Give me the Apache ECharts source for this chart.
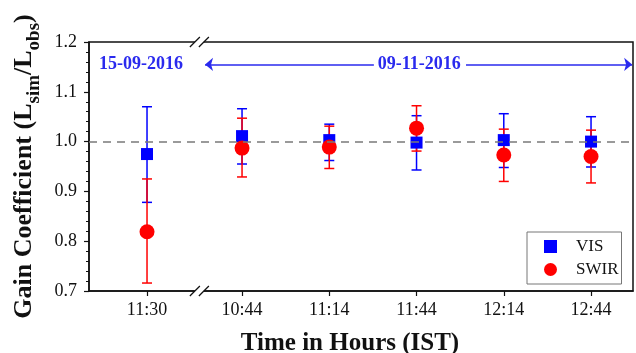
<!DOCTYPE html>
<html><head><meta charset="utf-8">
<script src="https://cdn.jsdelivr.net/npm/echarts@6/dist/echarts.min.js"></script>
<style>html,body{margin:0;padding:0;background:#fff}#c{width:636px;height:353px}</style>
</head><body><div id="c"></div>
<script>
const times=['11:30','10:44','11:14','11:44','12:14','12:44'];
const visVal =[0.975,1.011,1.003,0.998,1.003,1.000];
const visLow =[0.878,0.955,0.962,0.943,0.948,0.949];
const visHigh=[1.070,1.066,1.035,1.052,1.056,1.050];
const swirVal =[0.819,0.987,0.989,1.027,0.973,0.970];
const swirLow =[0.716,0.929,0.946,0.981,0.920,0.917];
const swirHigh=[0.925,1.047,1.031,1.072,1.025,1.023];
const yTicks=[0.7,0.8,0.9,1.0,1.1,1.2];
const dateLabels=['15-09-2016','09-11-2016'];

const SERIF="'Liberation Serif','Times New Roman',serif";
const BLUE='#0000FF',RED='#FF0000',ABLUE='#2a2aee',AX='#111';
// the first date sits a little further away (axis break after it)
const GAP=0.089, BREAK_AT=0.6, ANN_Y=1.155;
const xPos=times.map((t,i)=>i===0?0:i+GAP);

function errBar(name,low,high,color){
  return {type:'custom',name:name,silent:true,z:2,
    data:times.map((t,i)=>[xPos[i],low[i],high[i]]),
    encode:{x:0,y:[1,2]},
    renderItem:(p,api)=>{
      const x=api.value(0),lo=api.coord([x,api.value(1)]),hi=api.coord([x,api.value(2)]),w=5;
      const st={stroke:color,lineWidth:1.5};
      return {type:'group',children:[
        {type:'line',shape:{x1:lo[0],y1:lo[1],x2:hi[0],y2:hi[1]},style:st},
        {type:'line',shape:{x1:lo[0]-w,y1:lo[1],x2:lo[0]+w,y2:lo[1]},style:st},
        {type:'line',shape:{x1:hi[0]-w,y1:hi[1],x2:hi[0]+w,y2:hi[1]},style:st},
      ]};
    }};
}

const chart=echarts.init(document.getElementById('c'));
chart.setOption({
  animation:false,
  grid:{left:89,right:3,top:42,bottom:62,outerBoundsMode:'none',containLabel:false,show:true,borderColor:AX,borderWidth:1.5},
  legend:{orient:'vertical',left:527,top:232,padding:[6,3,6,17],itemGap:6,itemWidth:13,itemHeight:13,
    borderColor:'#777',borderWidth:1,data:['VIS','SWIR'],
    textStyle:{fontFamily:SERIF,fontSize:17,color:AX,padding:[0,0,0,14]}},
  xAxis:{type:'value',min:-0.665,max:5.57,
    name:'Time in Hours (IST)',nameLocation:'middle',nameGap:40,
    nameTextStyle:{fontFamily:SERIF,fontSize:25,fontWeight:'bold',color:AX,padding:[0,22,0,0]},
    axisLine:{onZero:false,lineStyle:{color:AX,width:1.5}},
    axisTick:{customValues:xPos,length:5,lineStyle:{color:AX,width:1.2}},
    axisLabel:{customValues:xPos,margin:10,fontFamily:SERIF,fontSize:18,color:AX,
      formatter:v=>{const i=xPos.findIndex(p=>Math.abs(p-v)<1e-6);return i<0?'':times[i];}},
    splitLine:{show:false}},
  yAxis:{type:'value',min:yTicks[0],max:yTicks[yTicks.length-1],interval:0.1,
    name:'{b|Gain Coefficient (L}{s|sim}{b|/L}{s|obs}{b|)}',nameLocation:'middle',nameGap:46,
    nameTextStyle:{rich:{
      b:{fontFamily:SERIF,fontSize:26,fontWeight:'bold',color:AX,lineHeight:31,verticalAlign:'top'},
      s:{fontFamily:SERIF,fontSize:19,fontWeight:'bold',color:AX,lineHeight:19,padding:[13,0,0,0],verticalAlign:'top'}}},
    axisLine:{onZero:false,lineStyle:{color:AX,width:1.5}},
    axisTick:{length:5,lineStyle:{color:AX,width:1.2}},
    minorTick:{show:true,splitNumber:5,length:3,lineStyle:{color:AX,width:1}},
    axisLabel:{margin:12,fontFamily:SERIF,fontSize:18,color:AX,formatter:v=>v.toFixed(1)},
    splitLine:{show:false}},
  series:[
    errBar('visErr',visLow,visHigh,BLUE),
    {name:'VIS',type:'scatter',symbol:'rect',symbolSize:12,z:3,
      data:times.map((t,i)=>[xPos[i],visVal[i]]),itemStyle:{color:BLUE,opacity:1},
      markLine:{silent:true,symbol:'none',label:{show:false},
        lineStyle:{color:'#7a7a7a',type:[8,6],width:1.5},
        data:[{yAxis:1.0}]}},
    errBar('swirErr',swirLow,swirHigh,RED),
    {name:'SWIR',type:'scatter',symbol:'circle',symbolSize:15,z:4,
      data:times.map((t,i)=>[xPos[i],swirVal[i]]),itemStyle:{color:RED,opacity:1},
      markLine:{silent:true,label:{show:false},symbolSize:[10,8],
        lineStyle:{color:ABLUE,type:'solid',width:1.5},
        data:[
          [{coord:[0.665,ANN_Y],symbol:'arrow'},{coord:[2.60,ANN_Y],symbol:'none'}],
          [{coord:[3.656,ANN_Y],symbol:'none'},{coord:[5.56,ANN_Y],symbol:'arrow'}],
        ]}},
  ],
});

// annotations and axis-break marks, placed through the axis scales
const px=v=>chart.convertToPixel({gridIndex:0},v);
const gfx=[];
[[-0.07,dateLabels[0]],[3.12,dateLabels[1]]].forEach(([x,t])=>{
  const p=px([x,ANN_Y]);
  gfx.push({type:'text',x:p[0],y:p[1],z:10,style:{text:t,fill:ABLUE,font:'bold 18px '+SERIF,align:'center',verticalAlign:'middle'}});
});
[yTicks[0],yTicks[yTicks.length-1]].forEach(yv=>{
  const p=px([BREAK_AT,yv]);
  gfx.push({type:'rect',z:10,shape:{x:p[0]-4.5,y:p[1]-2.5,width:9,height:5},style:{fill:'#fff'}});
  [-4.5,4.5].forEach(d=>gfx.push({type:'line',z:11,
    shape:{x1:p[0]+d-5,y1:p[1]+5,x2:p[0]+d+5,y2:p[1]-5},style:{stroke:AX,lineWidth:1.3}}));
});
chart.setOption({graphic:gfx});
</script></body></html>
